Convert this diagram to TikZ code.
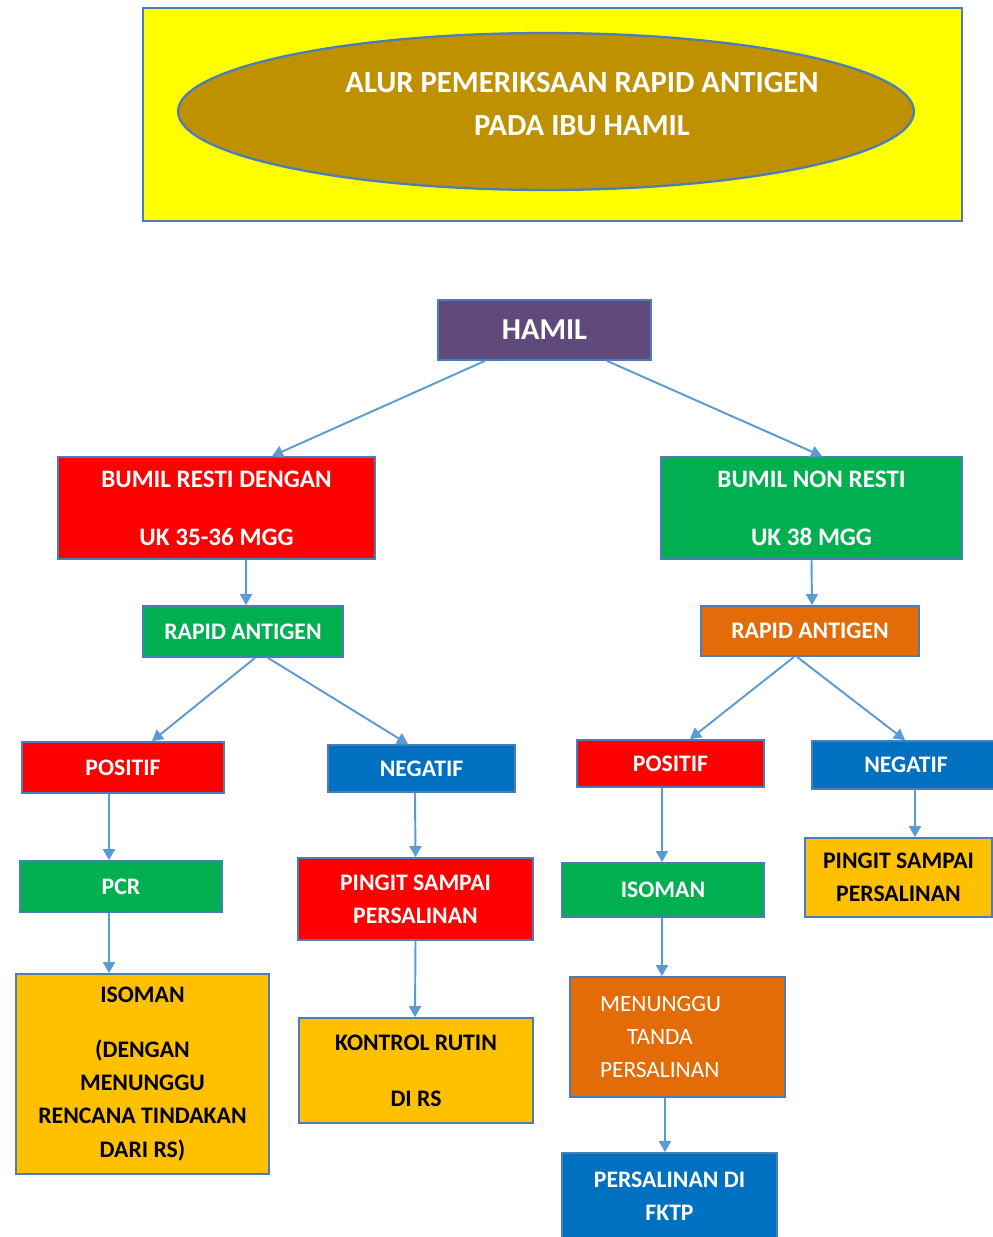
\documentclass[tikz,border=0pt]{standalone}
\usepackage{fontspec}
\setmainfont{Carlito}
\usetikzlibrary{arrows.meta,shapes.geometric}

\definecolor{boxline}{HTML}{4A7EBB}
\definecolor{arrowblue}{HTML}{5B9BD5}
\definecolor{titleyellow}{HTML}{FFFF00}
\definecolor{titlegold}{HTML}{BF9000}
\definecolor{hamilpurple}{HTML}{604A7B}
\definecolor{restired}{HTML}{FF0000}
\definecolor{okgreen}{HTML}{00B050}
\definecolor{deeporange}{HTML}{E36C09}
\definecolor{negblue}{HTML}{0070C0}
\definecolor{amber}{HTML}{FFC000}

\begin{document}
\begin{tikzpicture}[x=0.02cm,y=-0.02cm]
      \useasboundingbox (0,0) rectangle (992,1237);

      \begin{scope}[every node/.style={draw=boxline, line width=1pt, text=white, align=center, inner sep=0pt,
          font=\bfseries\fontsize{13.5}{19}\selectfont}]
        \node[fill=titleyellow, minimum width=16.38cm, minimum height=4.26cm] (1) at (552.5,114.5) {};
        \node[ellipse, fill=titlegold, line width=1.3pt, minimum width=14.72cm, minimum height=3.14cm] (2) at (546,111.5) {};
        \node[draw=none, font=\bfseries\fontsize{17.5}{25}\selectfont] (3) at (582,104)
          {ALUR PEMERIKSAAN RAPID ANTIGEN\\PADA IBU HAMIL};
        \node[fill=hamilpurple, minimum width=4.26cm, minimum height=1.2cm,
          font=\bfseries\fontsize{17.3}{21}\selectfont] (4) at (544.5,330) {HAMIL};
        \node[fill=restired, minimum width=6.34cm, minimum height=2.04cm,
          font=\bfseries\fontsize{14.3}{33}\selectfont] (5) at (216.5,508) {BUMIL RESTI DENGAN\\UK 35-36 MGG};
        \node[fill=okgreen, minimum width=6.02cm, minimum height=2.04cm,
          font=\bfseries\fontsize{14.3}{33}\selectfont] (6) at (811.5,508) {BUMIL NON RESTI\\UK 38 MGG};
        \node[fill=okgreen, minimum width=4cm, minimum height=1.02cm] (7) at (243,631.5) {RAPID ANTIGEN};
        \node[fill=deeporange, minimum width=4.36cm, minimum height=1cm] (8) at (810,631) {RAPID ANTIGEN};
        \node[fill=restired, minimum width=4.04cm, minimum height=1.02cm] (9) at (123,767.5) {POSITIF};
        \node[fill=negblue, minimum width=3.74cm, minimum height=0.94cm] (10) at (421.5,768.5) {NEGATIF};
        \node[fill=restired, minimum width=3.74cm, minimum height=0.94cm] (11) at (670.5,763.5) {POSITIF};
        \node[fill=negblue, minimum width=3.76cm, minimum height=0.96cm] (12) at (906,765) {NEGATIF};
        \node[fill=okgreen, minimum width=4.04cm, minimum height=1.02cm] (13) at (121,886.5) {PCR};
        \node[fill=restired, minimum width=4.7cm, minimum height=1.64cm] (14) at (415.5,899) {PINGIT SAMPAI\\PERSALINAN};
        \node[fill=okgreen, minimum width=4.04cm, minimum height=1.08cm] (15) at (663,890) {ISOMAN};
        \node[fill=amber, text=black, minimum width=3.74cm, minimum height=1.58cm] (16) at (898.5,877.5) {PINGIT SAMPAI\\PERSALINAN};
        \node[fill=amber, text=black, minimum width=5.06cm, minimum height=4cm] (17) at (142.5,1074)
          {ISOMAN\\[12pt](DENGAN\\MENUNGGU\\RENCANA TINDAKAN\\DARI RS)};
        \node[fill=amber, text=black, minimum width=4.68cm, minimum height=2.1cm] (18) at (416,1070.5) {KONTROL RUTIN\\[13pt]DI RS};
        \node[fill=deeporange, align=left, text width=3.1cm, inner xsep=0.6cm, minimum height=2.4cm,
          font=\fontsize{13.3}{19}\selectfont] (19) at (677.5,1037) {MENUNGGU\\\hspace*{0.54cm}TANDA\\PERSALINAN};
        \node[fill=negblue, minimum width=4.3cm, minimum height=1.74cm] (20) at (669.5,1196.5) {PERSALINAN DI\\FKTP};
      \end{scope}

      \begin{scope}[every edge/.style={draw=arrowblue, line width=1.1pt, -{Triangle[length=0.22cm,width=0.24cm]}}]
        \path ([xshift=-1.19cm]4.south) edge ([xshift=1.11cm]5.north);
        \path ([xshift=1.25cm]4.south)  edge ([xshift=0.21cm]6.north);
        \path ([xshift=0.59cm]5.south)  edge ([xshift=0.06cm]7.north);
        \path (6.south)                 edge ([xshift=0.04cm]8.north);
        \path ([xshift=0.24cm]7.south)  edge ([xshift=0.58cm]9.north);
        \path ([xshift=0.5cm]7.south)   edge ([xshift=-0.27cm]10.north);
        \path ([xshift=-0.32cm]8.south) edge ([xshift=0.39cm]11.north);
        \path ([xshift=-0.26cm]8.south) edge ([xshift=-0.02cm]12.north);
        \path ([xshift=-0.28cm]9.south) edge ([xshift=-0.24cm]13.north);
        \path ([xshift=-0.13cm]10.south) edge (14.north);
        \path ([xshift=-0.17cm]11.south) edge ([xshift=-0.02cm]15.north);
        \path ([xshift=0.18cm]12.south) edge ([xshift=0.33cm]16.north);
        \path ([xshift=-0.24cm]13.south) edge ([xshift=-0.67cm]17.north);
        \path (14.south)                edge ([xshift=-0.02cm]18.north);
        \path ([xshift=-0.02cm]15.south) edge ([xshift=-0.31cm]19.north);
        \path ([xshift=-0.25cm]19.south) edge ([xshift=-0.09cm]20.north);
      \end{scope}

    \end{tikzpicture}
\end{document}
